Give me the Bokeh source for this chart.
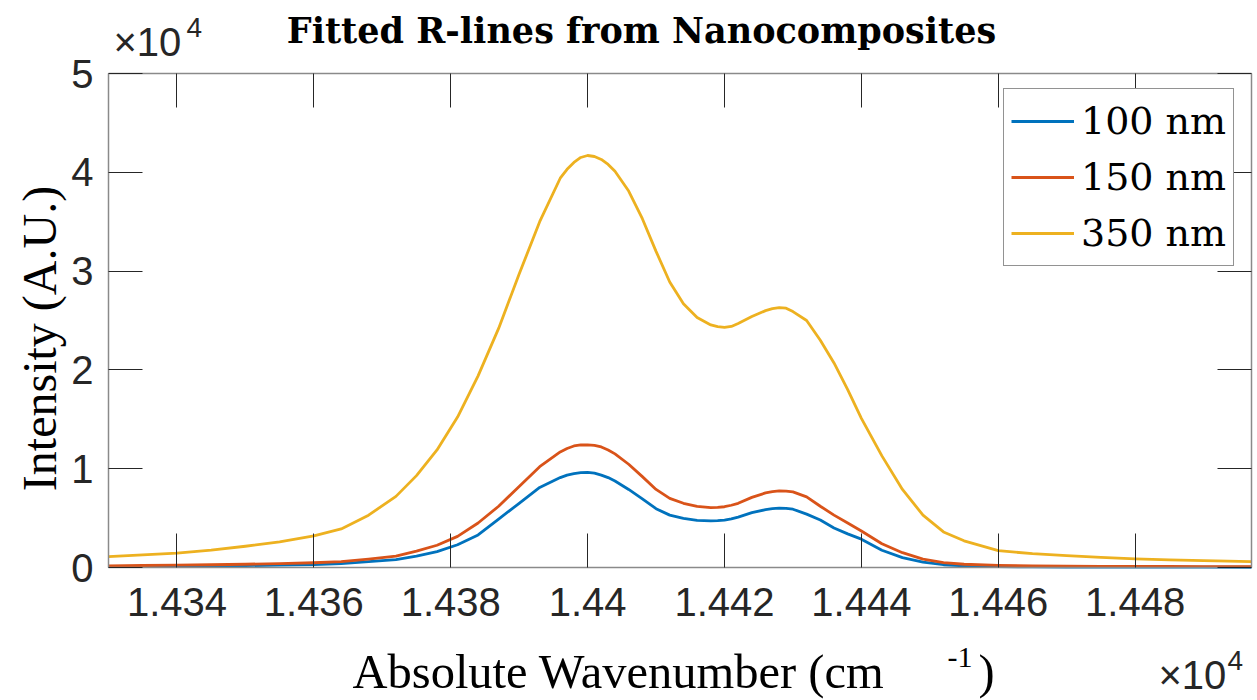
from bokeh.plotting import figure
from bokeh.models import (Range1d, FixedTicker, LinearAxis, Label, Legend, LegendItem,
                          CustomJSTickFormatter)
from bokeh.embed import file_html
from bokeh.resources import INLINE

# ---------------- data ----------------
wavenumber = [14330, 14335, 14340, 14345, 14350, 14355, 14360, 14364, 14368, 14372,
              14375, 14378, 14381, 14384, 14387, 14390, 14393,
              14396, 14397, 14398, 14399, 14400, 14401, 14402, 14403, 14404,
              14406, 14408, 14410, 14412, 14414, 14416, 14418, 14419, 14420, 14421, 14422,
              14424, 14426, 14427, 14428, 14429, 14430,
              14432, 14434, 14436, 14438, 14440,
              14443, 14446, 14449, 14452, 14455, 14460, 14465, 14470, 14475, 14480,
              14485, 14490, 14497]

intensity_100nm = [80, 100, 120, 150, 190, 240, 300, 400, 600, 800,
                   1150, 1600, 2300, 3300, 4900, 6500, 8100,
                   9100, 9350, 9500, 9600, 9620, 9550, 9350, 9100, 8750,
                   7900, 6950, 5950, 5300, 4980, 4770, 4720, 4740, 4800, 4920, 5100,
                   5550, 5850, 5950, 6000, 5980, 5900,
                   5400, 4800, 4000, 3400, 2870,
                   1750, 1000, 550, 280, 170, 90, 60, 50, 40, 35,
                   30, 30, 25]

intensity_150nm = [170, 200, 240, 280, 330, 400, 480, 600, 850, 1150,
                   1650, 2250, 3150, 4500, 6200, 8200, 10200,
                   11700, 12050, 12300, 12400, 12420, 12350, 12200, 11900, 11500,
                   10450, 9200, 7900, 7000, 6500, 6180, 6070, 6080, 6150, 6300, 6500,
                   7100, 7550, 7680, 7750, 7730, 7650,
                   7150, 6200, 5300, 4500, 3700,
                   2400, 1500, 850, 500, 330, 220, 170, 140, 120, 110,
                   100, 90, 80]

intensity_350nm = [1110, 1280, 1460, 1760, 2150, 2600, 3210, 3900, 5300, 7200,
                   9300, 11900, 15230, 19400, 24200, 29700, 35000,
                   39400, 40300, 41000, 41500, 41700, 41600, 41300, 40800, 40100,
                   38100, 35300, 32000, 28900, 26700, 25300, 24550, 24380, 24300, 24400, 24700,
                   25400, 26000, 26200, 26300, 26250, 25900,
                   25000, 23000, 20700, 18000, 15100,
                   11300, 7900, 5300, 3600, 2700, 1700, 1400, 1200, 1020, 880,
                   780, 690, 600]

series_labels = ["100 nm", "150 nm", "350 nm"]
series_colors = ["#0072BD", "#D95319", "#EDB120"]

x_tick_values = [14340, 14360, 14380, 14400, 14420, 14440, 14460, 14480]
x_tick_labels = ["1.434", "1.436", "1.438", "1.44", "1.442", "1.444", "1.446", "1.448"]
y_tick_values = [0, 10000, 20000, 30000, 40000, 50000]
y_tick_labels = ["0", "1", "2", "3", "4", "5"]

# ---------------- layout ----------------
W, H = 1257, 700
# pixel box of the axes inside the canvas
FL, FR, FT, FB = 108, 1251, 73, 567
X0, X1 = 14330, 14497
Y0, Y1 = 0, 50000
sx = (X1 - X0) / (FR - FL)
sy = (Y1 - Y0) / (FB - FT)

def dx(px):
    return X0 + (px - FL) * sx

def dy(py):
    return Y0 + (FB - py) * sy

# the frame covers the whole canvas; axes are pinned to the data box
p = figure(width=W, height=H, output_backend="svg", toolbar_location=None,
           x_range=Range1d(dx(0), dx(W)), y_range=Range1d(dy(H), dy(0)),
           min_border_left=0, min_border_right=0, min_border_top=0, min_border_bottom=0,
           x_axis_type=None, y_axis_type=None)
p.background_fill_color = "white"
p.border_fill_color = "white"
p.outline_line_color = None
p.xgrid.grid_line_color = None
p.ygrid.grid_line_color = None

TICK_COLOR = "#262626"
BOX_COLOR = "#8a8a8a"
LABEL_FONT = "Liberation Sans"
SERIF = "DejaVu Serif"
LSERIF = "Liberation Serif"
blank = CustomJSTickFormatter(code="return ''")

def make_axis(ticks, labels, fixed, bounds, show_labels):
    ax = LinearAxis(ticker=FixedTicker(ticks=ticks), fixed_location=fixed, bounds=bounds)
    ax.major_tick_in = 34
    ax.major_tick_out = 0
    ax.minor_tick_line_color = None
    ax.axis_line_color = BOX_COLOR
    ax.axis_line_width = 1.5
    ax.major_tick_line_color = TICK_COLOR
    ax.major_tick_line_width = 1
    if show_labels:
        ax.major_label_overrides = dict(zip(ticks, labels))
        ax.major_label_text_font = LABEL_FONT
        ax.major_label_text_font_size = "40px"
        ax.major_label_text_color = TICK_COLOR
    else:
        ax.formatter = blank
        ax.major_label_standoff = 0
    return ax

bottom = make_axis(x_tick_values, x_tick_labels, Y0, (X0, X1), True)
bottom.major_label_standoff = 20
left = make_axis(y_tick_values, y_tick_labels, X0, (Y0, Y1), True)
left.major_label_standoff = 15
top = make_axis(x_tick_values, x_tick_labels, Y1, (X0, X1), False)
right = make_axis(y_tick_values, y_tick_labels, X1, (Y0, Y1), False)
p.add_layout(bottom, "below")
p.add_layout(left, "left")
p.add_layout(top, "above")
p.add_layout(right, "right")

renderers = []
for ys, c in zip([intensity_100nm, intensity_150nm, intensity_350nm], series_colors):
    r = p.line(wavenumber, ys, line_color=c, line_width=2.8, line_join="round")
    renderers.append(r)

legend = Legend(items=[LegendItem(label=l, renderers=[r]) for l, r in zip(series_labels, renderers)],
                location=(1003, H - 266))
legend.label_text_font = SERIF
legend.label_text_font_size = "38px"
legend.label_text_color = "black"
legend.glyph_width = 63
legend.glyph_height = 50
legend.label_height = 50
legend.label_standoff = 7
legend.padding = 7
legend.spacing = 6
legend.margin = 0
legend.border_line_color = "#262626"
legend.border_line_width = 1
legend.background_fill_color = "white"
legend.background_fill_alpha = 1
p.add_layout(legend, "center")

def add_text(txt, px, base, font, size, align="left", angle=0, style="normal", color="black"):
    # base: wanted baseline in canvas pixels
    shift = 0.35 * size
    p.add_layout(Label(x=dx(px), y=dy(base - shift), x_units="data", y_units="data", text=txt,
                       text_font=font, text_font_size=f"{size}px", text_align=align,
                       text_baseline="alphabetic", angle=angle, angle_units="deg",
                       text_font_style=style, text_color=color))

add_text("Fitted R-lines from Nanocomposites", 641, 42, SERIF, 35, align="center", style="bold")
p.add_layout(Label(x=dx(39), y=dy(338), x_units="data", y_units="data", text="Intensity (A.U.)",
                   text_font=LSERIF, text_font_size="48px", text_align="center",
                   text_baseline="middle", angle=90, angle_units="deg", text_color="black"))
add_text("Absolute Wavenumber (cm", 352, 688, LSERIF, 48.5)
add_text("-1", 947, 667, LSERIF, 30)
add_text(")", 978, 688, LSERIF, 48.5)
add_text("\u00d710", 113, 55, LABEL_FONT, 40, color=TICK_COLOR)
add_text("4", 186, 37, LABEL_FONT, 28, color=TICK_COLOR)
add_text("\u00d710", 1158, 688, LABEL_FONT, 40, color=TICK_COLOR)
add_text("4", 1227, 670, LABEL_FONT, 28, color=TICK_COLOR)

open("out.html", "w").write(file_html(p, INLINE))
